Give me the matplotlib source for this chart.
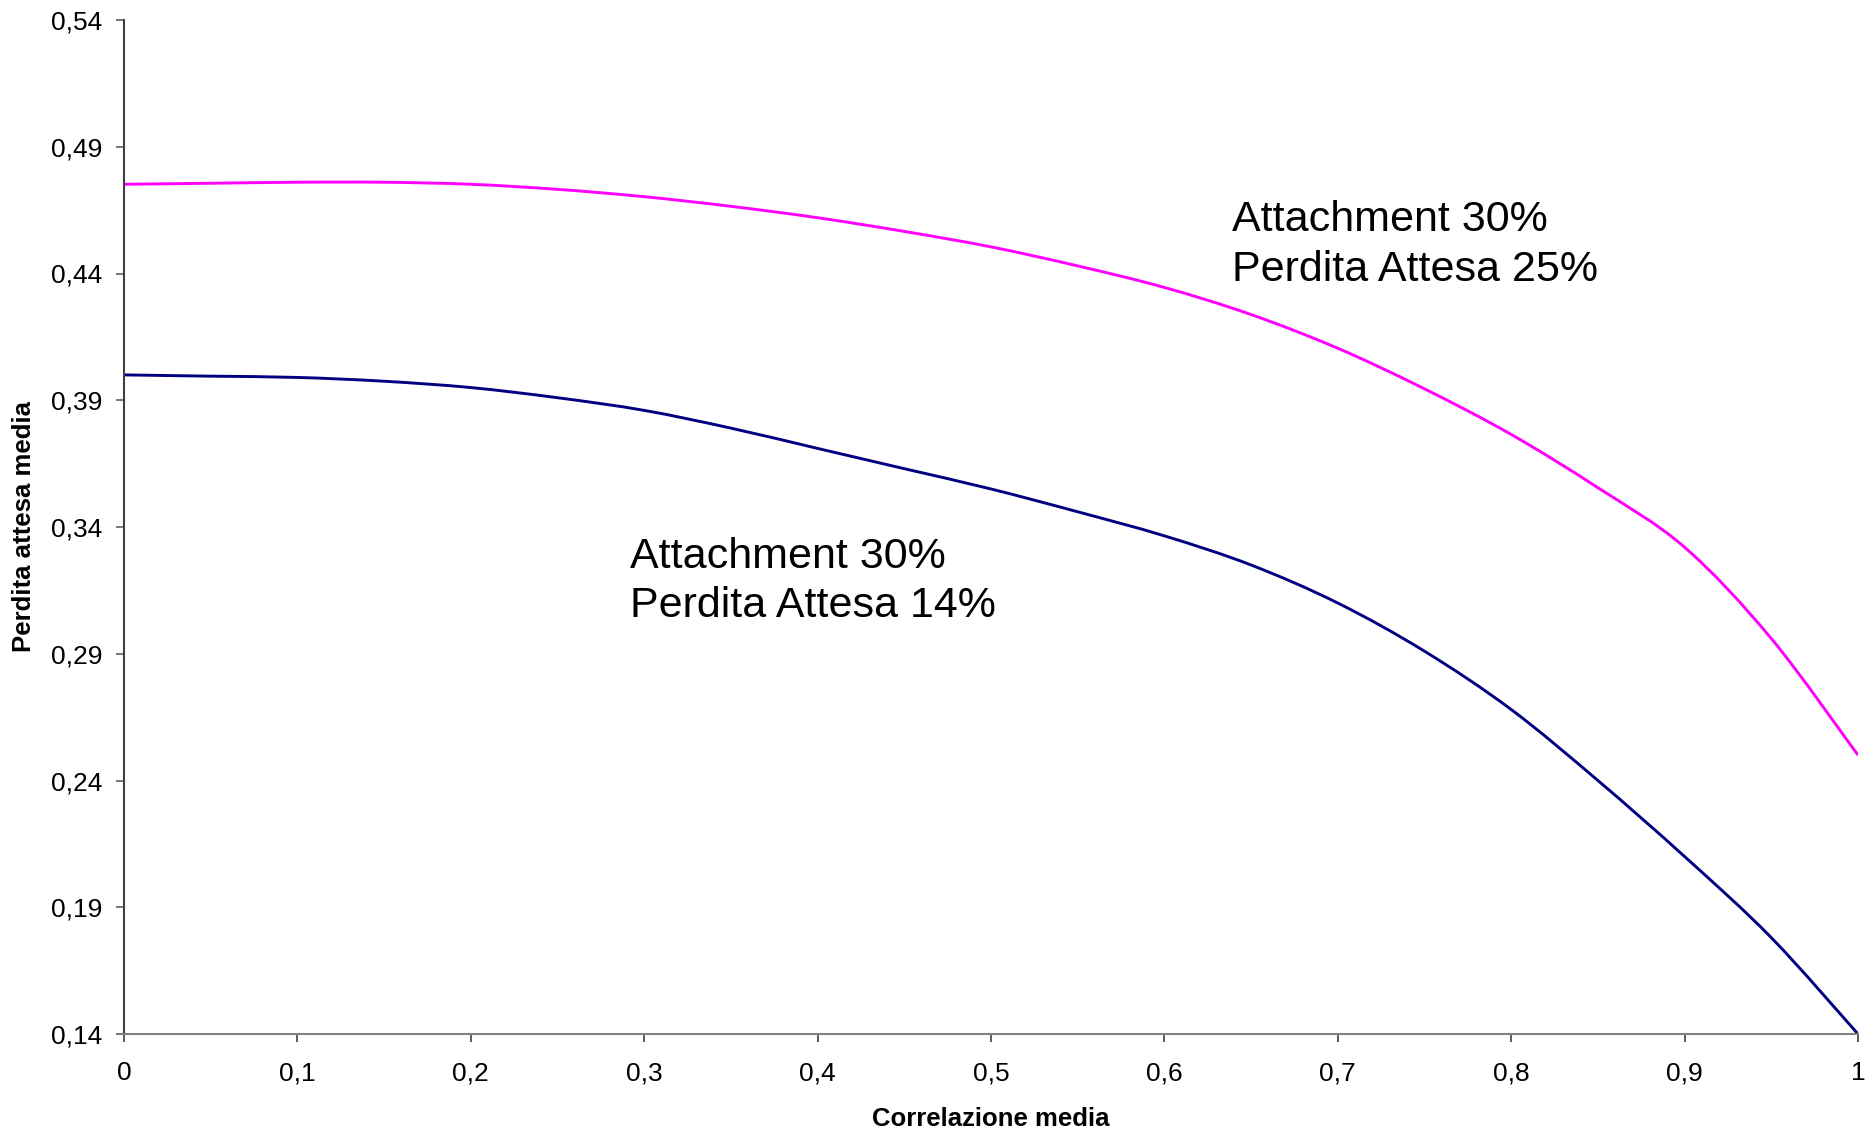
import matplotlib
matplotlib.use("Agg")
import matplotlib.pyplot as plt
from matplotlib.path import Path
from matplotlib.patches import PathPatch
from matplotlib.ticker import FixedLocator, FuncFormatter, MultipleLocator

plt.rcParams["font.family"] = ["Liberation Sans", "DejaVu Sans"]

# correlazione media
rho = [0.00, 0.05, 0.10, 0.15, 0.20, 0.25, 0.30, 0.35, 0.40, 0.45, 0.50,
       0.55, 0.60, 0.65, 0.70, 0.75, 0.80, 0.85, 0.90, 0.95, 1.00]

# perdita attesa media, attachment 30%, perdita attesa 25%
pa_25 = [0.4752, 0.4756, 0.4760, 0.4760, 0.4752, 0.4732, 0.4703, 0.4665,
         0.4620, 0.4566, 0.4505, 0.4430, 0.4345, 0.4238, 0.4105, 0.3945,
         0.3765, 0.3555, 0.3320, 0.2960, 0.2500]

# perdita attesa media, attachment 30%, perdita attesa 14%
pa_14 = [0.4000, 0.3995, 0.3990, 0.3975, 0.3950, 0.3910, 0.3860, 0.3790,
         0.3710, 0.3630, 0.3550, 0.3460, 0.3365, 0.3250, 0.3100, 0.2910,
         0.2680, 0.2400, 0.2100, 0.1780, 0.1400]

y_ticks = [0.14, 0.19, 0.24, 0.29, 0.34, 0.39, 0.44, 0.49, 0.54]

labels = ["Attachment 30%\nPerdita Attesa 25%",
          "Attachment 30%\nPerdita Attesa 14%"]


def smooth_path(xs, ys):
    """Spreadsheet-style smoothed line: cubic Bezier through every point."""
    pts = list(zip(xs, ys))
    n = len(pts)
    verts = [pts[0]]
    codes = [Path.MOVETO]
    for i in range(n - 1):
        p0 = pts[max(i - 1, 0)]
        p1 = pts[i]
        p2 = pts[i + 1]
        p3 = pts[min(i + 2, n - 1)]
        c1 = (p1[0] + (p2[0] - p0[0]) / 6, p1[1] + (p2[1] - p0[1]) / 6)
        c2 = (p2[0] - (p3[0] - p1[0]) / 6, p2[1] - (p3[1] - p1[1]) / 6)
        verts += [c1, c2, p2]
        codes += [Path.CURVE4] * 3
    return Path(verts, codes)


fig = plt.figure(figsize=(18.66, 11.30), dpi=100)
ax = fig.add_axes([124 / 1866, 1 - 1034 / 1130, 1734 / 1866, 1014 / 1130])

for ys, col in ((pa_25, "#FF00FF"), (pa_14, "#000080")):
    ax.add_patch(PathPatch(smooth_path(rho, ys), facecolor="none",
                           edgecolor=col, linewidth=2.1, capstyle="butt"))

ax.text(0.639, 0.4688, labels[0], fontsize=31, va="top", ha="left",
        linespacing=1.3)
ax.text(0.292, 0.3362, labels[1], fontsize=31, va="top", ha="left",
        linespacing=1.3)

ax.set_xlim(0, 1)
ax.set_ylim(0.14, 0.54)
ax.xaxis.set_major_locator(MultipleLocator(0.1))
ax.yaxis.set_major_locator(FixedLocator(y_ticks))


def fmt_x(v, _pos):
    if abs(v - round(v)) < 1e-9:
        return f"{int(round(v))}"
    return f"{v:.1f}".replace(".", ",")


def fmt_y(v, _pos):
    return f"{v:.2f}".replace(".", ",")


ax.xaxis.set_major_formatter(FuncFormatter(fmt_x))
ax.yaxis.set_major_formatter(FuncFormatter(fmt_y))

for side in ("top", "right"):
    ax.spines[side].set_visible(False)
ax.spines["left"].set_color("#404040")
ax.spines["bottom"].set_color("#808080")
for side in ("left", "bottom"):
    ax.spines[side].set_linewidth(1.5)

ax.tick_params(axis="y", direction="out", length=5.5, width=1.2,
               color="#606060", labelsize=19, pad=10)
ax.tick_params(axis="x", direction="out", length=5.5, width=1.2,
               color="#404040", labelsize=19, pad=14)

ax.set_xlabel("Correlazione media", fontsize=18.5, fontweight="bold")
ax.set_ylabel("Perdita attesa media", fontsize=18.5, fontweight="bold")
ax.xaxis.set_label_coords(0.5, -0.072)
ax.yaxis.set_label_coords(-0.051, 0.5)

fig.savefig("out.png", dpi=100, facecolor="white")
